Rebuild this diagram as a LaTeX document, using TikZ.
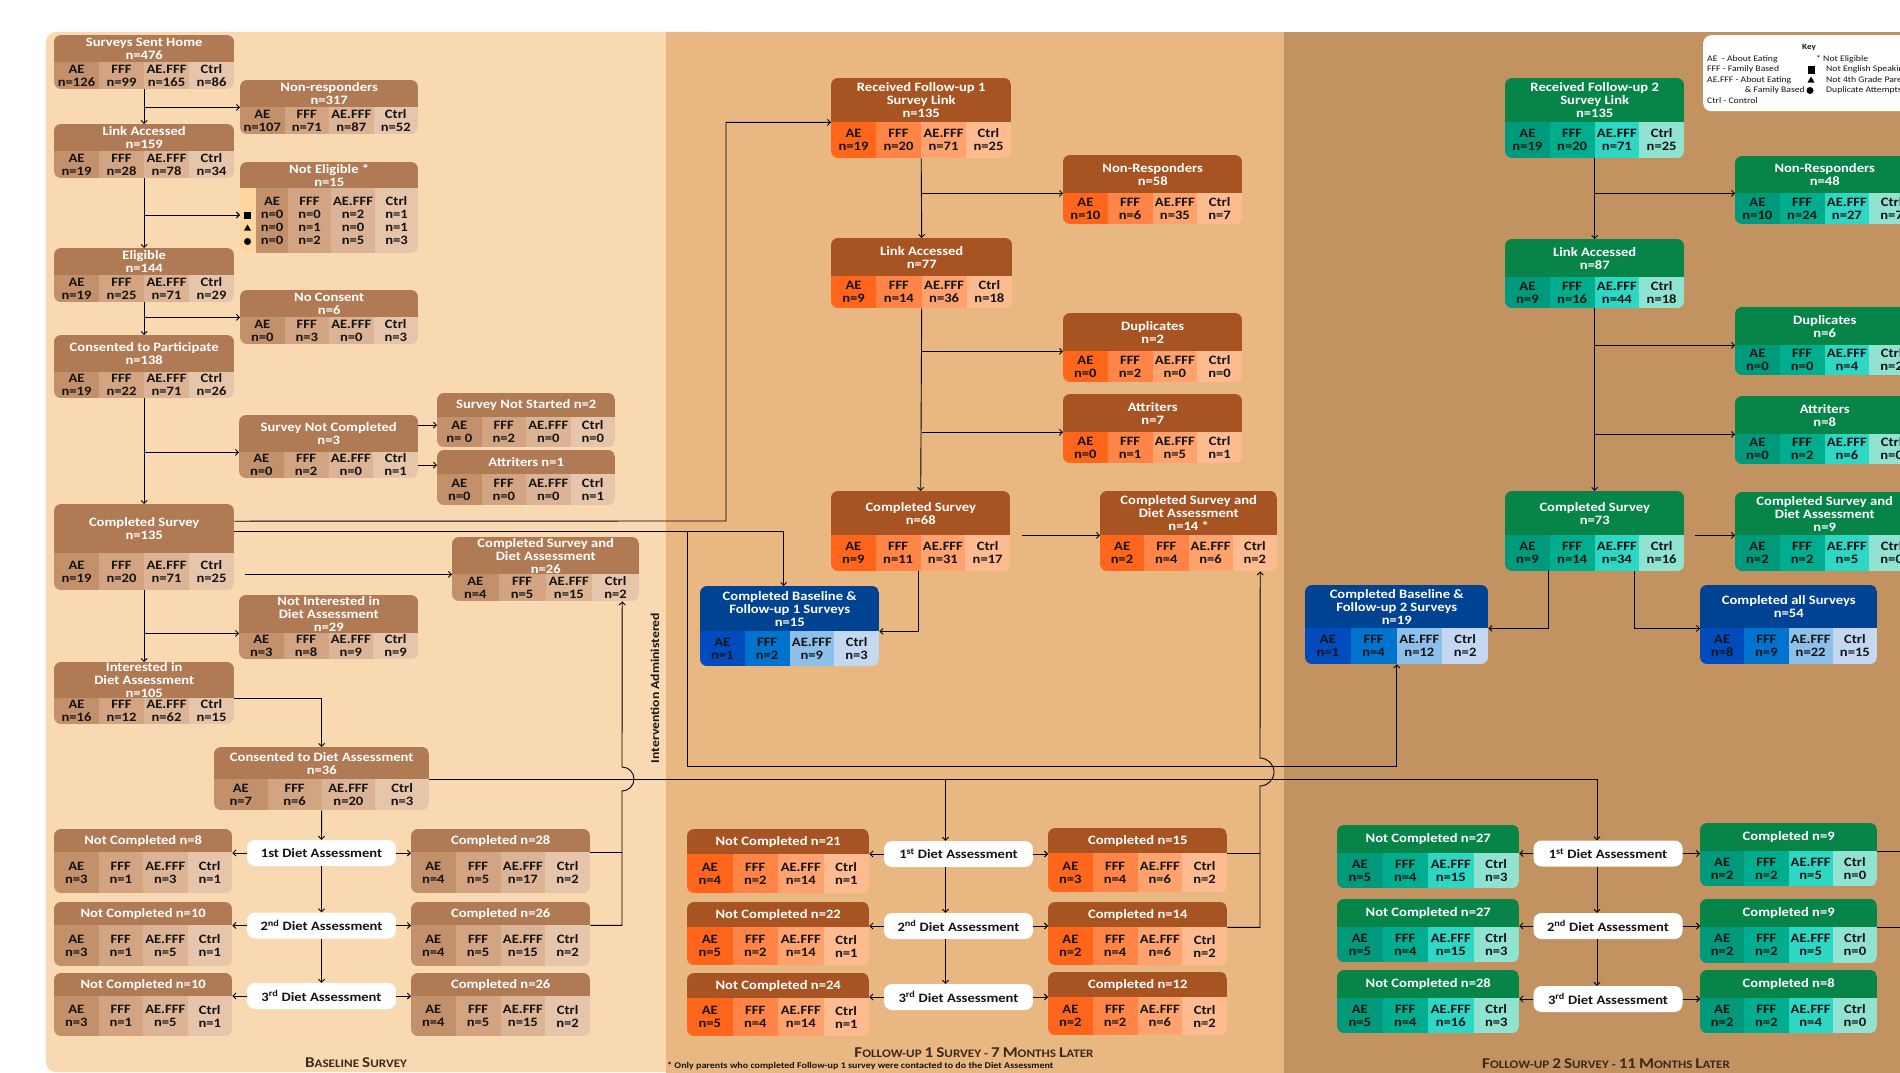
\documentclass[tikz,border=0pt]{standalone}
\usepackage{fontspec}
\setmainfont{Carlito}[FakeStretch=1.14]
\usetikzlibrary{arrows.meta,positioning,calc,shapes.geometric}

% panel colours
\definecolor{bgBase}{HTML}{F9D9B1}
\definecolor{bgFuA}{HTML}{E9B781}
\definecolor{bgFuB}{HTML}{C29360}
% baseline boxes
\definecolor{bsH}{HTML}{B07A55}
\definecolor{bs1}{HTML}{C3906C}
\definecolor{bs2}{HTML}{D2A482}
\definecolor{bs3}{HTML}{DCB495}
\definecolor{bs4}{HTML}{E6C5AB}
% follow-up 1 boxes
\definecolor{faH}{HTML}{A85322}
\definecolor{fa1}{HTML}{FF661C}
\definecolor{fa2}{HTML}{FF8445}
\definecolor{fa3}{HTML}{FFA26E}
\definecolor{fa4}{HTML}{FFBB90}
% follow-up 2 boxes
\definecolor{fbH}{HTML}{078548}
\definecolor{fb1}{HTML}{00997C}
\definecolor{fb2}{HTML}{00AD8E}
\definecolor{fb3}{HTML}{2DD7C3}
\definecolor{fb4}{HTML}{8FE3D0}
% completed-both boxes
\definecolor{blH}{HTML}{004392}
\definecolor{bl1}{HTML}{004CBE}
\definecolor{bl2}{HTML}{0073CF}
\definecolor{bl3}{HTML}{8CC0EA}
\definecolor{bl4}{HTML}{C4D9F1}
\definecolor{symcol}{HTML}{FFD79E}
\definecolor{inkDark}{HTML}{141414}
\definecolor{titleInk}{HTML}{3B2A1A}

\newcommand{\boxfont}{\fontsize{12.8}{13}\selectfont\bfseries}
\newcommand{\scbig}[1]{{\fontsize{15}{16}\selectfont #1}}

% box with coloured header: name, palette, x, y, width, height, header height, title
\newcommand{\databox}[8]{%
  \def\dbName{#1}\def\dbPal{#2}\def\dbX{#3}\def\dbY{#4}%
  \def\dbW{#5}\def\dbH{#6}\def\dbHH{#7}%
  \begin{scope}
    \clip[rounded corners=7pt] (#3,#4) rectangle ++(#5,#6);
    \fill[#2H] (#3,#4) rectangle ++(#5,#7);
  \end{scope}
  \node[boxframe, minimum width=#5pt, minimum height=#6pt] (#1) at (#3,#4) {};
  \node[boxhead, minimum width=#5pt, minimum height=#7pt] (#1-h) at (#3,#4) {#8};
}
% the four group cells of the last box
\newcommand{\cells}[4]{%
  \begin{scope}
    \clip[rounded corners=7pt] (\dbX,\dbY) rectangle ++(\dbW,\dbH);
    \foreach \i in {1,...,4}
      \fill[\dbPal\i] ({\dbX+(\i-1)*\dbW/4},{\dbY+\dbHH}) rectangle ({\dbX+\i*\dbW/4},{\dbY+\dbH});
  \end{scope}
  \foreach \lab/\val [count=\i] in {AE/#1,FFF/#2,AE.FFF/#3,Ctrl/#4}
    \node[celltext] (\dbName-c\i) at ({\dbX+(\i-0.5)*\dbW/4},{\dbY+(\dbHH+\dbH)/2}) {\lab\\\val};
}

\tikzset{
  boxframe/.style={inner sep=0pt, anchor=north west},
  boxhead/.style={inner sep=0pt, anchor=north west, text=white, font=\boxfont, align=center},
  celltext/.style={inner sep=0pt, text=inkDark, font=\boxfont, align=center},
  dietbox/.style={fill=white, rounded corners=8pt, inner sep=0pt, minimum width=149pt,
    minimum height=26pt, font=\boxfont, text=inkDark},
  flow/.style={line width=0.9pt, -{Straight Barb[length=3pt,width=6pt]}},
  link/.style={line width=0.9pt},
  keytext/.style={inner sep=0pt, font=\fontsize{8.5}{10}\selectfont, text=inkDark},
  paneltitle/.style={inner sep=0pt, font=\fontsize{11.5}{13}\selectfont\bfseries, text=titleInk},
}

\begin{document}
\begin{tikzpicture}[x=1pt,y=-1pt]
\useasboundingbox (0,0) rectangle (1900,1073);
\fill[white] (0,0) rectangle (1900,1073);
\fill[bgBase, rounded corners=10pt] (46,32) rectangle (720,1072);
\fill[bgFuA] (666,32) rectangle (1284,1073);
\fill[bgFuB] (1284,32) rectangle (1900,1073);

% ---------------- baseline survey
\databox{sent}{bs}{54}{35}{180}{54}{27}{Surveys Sent Home\\n=476}
\cells{n=126}{n=99}{n=165}{n=86}
\databox{nonresp}{bs}{240}{80}{178}{54}{27}{Non-responders\\n=317}
\cells{n=107}{n=71}{n=87}{n=52}
\databox{linkacc}{bs}{54}{124}{180}{54}{27}{Link Accessed\\n=159}
\cells{n=19}{n=28}{n=78}{n=34}
\databox{notelig}{bs}{240}{162}{178}{91}{26}{Not Eligible *\\n=15}
\begin{scope}
  \clip[rounded corners=7pt] (240,162) rectangle ++(178,91);
  \fill[symcol] (240,188) rectangle (255.5,253);
  \fill[bs1] (255.5,188) rectangle (288,253);
  \fill[bs2] (288,188) rectangle (331,253);
  \fill[bs3] (331,188) rectangle (375,253);
  \fill[bs4] (375,188) rectangle (418,253);
\end{scope}
\foreach \cx/\lab/\ra/\rb/\rc [count=\i] in
  {272/AE/n=0/n=0/n=0, 309.5/FFF/n=0/n=1/n=2, 353/AE.FFF/n=2/n=0/n=5, 396.5/Ctrl/n=1/n=1/n=3}
  \node[celltext] (notelig-c\i) at (\cx,221) {\lab\\\ra\\\rb\\\rc};
\node[fill=black, inner sep=0pt, minimum size=7pt] (notelig-sq) at (247.5,215) {};
\node[fill=black, regular polygon, regular polygon sides=3, inner sep=0pt, minimum size=8pt]
  (notelig-tri) at (247.5,228.5) {};
\node[fill=black, circle, inner sep=0pt, minimum size=7pt] (notelig-dot) at (247.5,241.5) {};
\databox{elig}{bs}{54}{248}{180}{54}{27}{Eligible\\n=144}
\cells{n=19}{n=25}{n=71}{n=29}
\databox{nocons}{bs}{240}{290}{178}{54}{27}{No Consent\\n=6}
\cells{n=0}{n=3}{n=0}{n=3}
\databox{consent}{bs}{54}{335}{180}{63}{37}{Consented to Participate\\n=138}
\cells{n=19}{n=22}{n=71}{n=26}
\databox{notcompl}{bs}{239}{415}{179}{63}{37}{Survey Not Completed\\n=3}
\cells{n=0}{n=2}{n=0}{n=1}
\databox{notstart}{bs}{437}{393}{178}{54}{24}{Survey Not Started n=2}
\cells{n= 0}{n=2}{n=0}{n=0}
\databox{attrone}{bs}{437}{450}{178}{55}{24}{Attriters n=1}
\cells{n=0}{n=0}{n=0}{n=1}
\databox{complsurv}{bs}{54}{504}{180}{86}{49}{Completed Survey\\n=135}
\cells{n=19}{n=20}{n=71}{n=25}
\databox{csdiet}{bs}{452}{537}{187}{64}{37}{Completed Survey and\\Diet Assessment\\n=26}
\cells{n=4}{n=5}{n=15}{n=2}
\databox{notint}{bs}{239}{595}{179}{64}{38}{Not Interested in\\Diet Assessment\\n=29}
\cells{n=3}{n=8}{n=9}{n=9}
\databox{interest}{bs}{54}{662}{180}{62}{36}{Interested in\\Diet Assessment\\n=105}
\cells{n=16}{n=12}{n=62}{n=15}
\databox{condiet}{bs}{214}{747}{215}{63}{32}{Consented to Diet Assessment\\n=36}
\cells{n=7}{n=6}{n=20}{n=3}
\databox{bnc1}{bs}{54}{829}{178}{64}{23}{Not Completed n=8}
\cells{n=3}{n=1}{n=3}{n=1}
\databox{bco1}{bs}{411}{829}{179}{64}{23}{Completed n=28}
\cells{n=4}{n=5}{n=17}{n=2}
\databox{bnc2}{bs}{54}{902}{178}{64}{23}{Not Completed n=10}
\cells{n=3}{n=1}{n=5}{n=1}
\databox{bco2}{bs}{411}{902}{179}{64}{23}{Completed n=26}
\cells{n=4}{n=5}{n=15}{n=2}
\databox{bnc3}{bs}{54}{973}{178}{63}{23}{Not Completed n=10}
\cells{n=3}{n=1}{n=5}{n=1}
\databox{bco3}{bs}{411}{973}{179}{63}{23}{Completed n=26}
\cells{n=4}{n=5}{n=15}{n=2}
\node[dietbox] (bda1) at (321.5,853) {1st Diet Assessment};
\node[dietbox] (bda2) at (321.5,925.5) {2\textsuperscript{nd} Diet Assessment};
\node[dietbox] (bda3) at (321.5,996) {3\textsuperscript{rd} Diet Assessment};

% ---------------- follow-up 1
\databox{fuArecv}{fa}{831}{78}{180}{80}{44}{Received Follow-up 1\\Survey Link\\n=135}
\cells{n=19}{n=20}{n=71}{n=25}
\databox{fuAnonresp}{fa}{1063}{155}{179}{69}{38}{Non-Responders\\n=58}
\cells{n=10}{n=6}{n=35}{n=7}
\databox{fuAlink}{fa}{831}{238}{181}{70}{38}{Link Accessed\\n=77}
\cells{n=9}{n=14}{n=36}{n=18}
\databox{fuAdup}{fa}{1063}{313}{179}{69}{38}{Duplicates\\n=2}
\cells{n=0}{n=2}{n=0}{n=0}
\databox{fuAattr}{fa}{1063}{394}{179}{69}{38}{Attriters\\n=7}
\cells{n=0}{n=1}{n=5}{n=1}
\databox{fuAcompl}{fa}{831}{491}{179}{80}{44}{Completed Survey\\n=68}
\cells{n=9}{n=11}{n=31}{n=17}
\databox{fuAcsdiet}{fa}{1100}{491}{177}{80}{44}{Completed Survey and\\Diet Assessment\\n=14 *}
\cells{n=2}{n=4}{n=6}{n=2}
\databox{fuAboth}{bl}{700}{586}{179}{80}{45}{Completed Baseline \&\\Follow-up 1 Surveys\\n=15}
\cells{n=1}{n=2}{n=9}{n=3}
\databox{fuAnc1}{fa}{687}{829}{182}{64}{25}{Not Completed n=21}
\cells{n=4}{n=2}{n=14}{n=1}
\databox{fuAco1}{fa}{1048}{828}{179}{64}{25}{Completed n=15}
\cells{n=3}{n=4}{n=6}{n=2}
\databox{fuAnc2}{fa}{687}{902}{182}{63}{25}{Not Completed n=22}
\cells{n=5}{n=2}{n=14}{n=1}
\databox{fuAco2}{fa}{1048}{902}{179}{63}{25}{Completed n=14}
\cells{n=2}{n=4}{n=6}{n=2}
\databox{fuAnc3}{fa}{687}{973}{182}{63}{25}{Not Completed n=24}
\cells{n=5}{n=4}{n=14}{n=1}
\databox{fuAco3}{fa}{1048}{972}{179}{63}{25}{Completed n=12}
\cells{n=2}{n=2}{n=6}{n=2}
\node[dietbox] (fuAda1) at (958.5,854) {1\textsuperscript{st} Diet Assessment};
\node[dietbox] (fuAda2) at (958.5,926) {2\textsuperscript{nd} Diet Assessment};
\node[dietbox] (fuAda3) at (958.5,997) {3\textsuperscript{rd} Diet Assessment};

% ---------------- follow-up 2
\databox{fuBrecv}{fb}{1505}{78}{179}{80}{44}{Received Follow-up 2\\Survey Link\\n=135}
\cells{n=19}{n=20}{n=71}{n=25}
\databox{fuBnonresp}{fb}{1735}{156}{179}{68}{37}{Non-Responders\\n=48}
\cells{n=10}{n=24}{n=27}{n=7}
\databox{fuBlink}{fb}{1505}{239}{179}{69}{38}{Link Accessed\\n=87}
\cells{n=9}{n=16}{n=44}{n=18}
\databox{fuBdup}{fb}{1735}{307}{179}{68}{38}{Duplicates\\n=6}
\cells{n=0}{n=0}{n=4}{n=2}
\databox{fuBattr}{fb}{1735}{396}{179}{68}{38}{Attriters\\n=8}
\cells{n=0}{n=2}{n=6}{n=0}
\databox{fuBcompl}{fb}{1505}{491}{179}{80}{44}{Completed Survey\\n=73}
\cells{n=9}{n=14}{n=34}{n=16}
\databox{fuBcsdiet}{fb}{1735}{492}{179}{79}{43}{Completed Survey and\\Diet Assessment\\n=9}
\cells{n=2}{n=2}{n=5}{n=0}
\databox{fuBboth}{bl}{1305}{585}{183}{79}{43}{Completed Baseline \&\\Follow-up 2 Surveys\\n=19}
\cells{n=1}{n=4}{n=12}{n=2}
\databox{fuBall}{bl}{1700}{585}{177}{79}{43}{Completed all Surveys\\n=54}
\cells{n=8}{n=9}{n=22}{n=15}
\databox{fuBnc1}{fb}{1337}{825}{182}{63}{28}{Not Completed n=27}
\cells{n=5}{n=4}{n=15}{n=3}
\databox{fuBco1}{fb}{1700}{823}{177}{63}{28}{Completed n=9}
\cells{n=2}{n=2}{n=5}{n=0}
\databox{fuBnc2}{fb}{1337}{899}{182}{63}{28}{Not Completed n=27}
\cells{n=5}{n=4}{n=15}{n=3}
\databox{fuBco2}{fb}{1700}{899}{177}{64}{28}{Completed n=9}
\cells{n=2}{n=2}{n=5}{n=0}
\databox{fuBnc3}{fb}{1337}{970}{182}{63}{28}{Not Completed n=28}
\cells{n=5}{n=4}{n=16}{n=3}
\databox{fuBco3}{fb}{1700}{970}{177}{63}{28}{Completed n=8}
\cells{n=2}{n=2}{n=4}{n=0}
\node[dietbox] (fuBda1) at (1608,853.5) {1\textsuperscript{st} Diet Assessment};
\node[dietbox] (fuBda2) at (1608,926) {2\textsuperscript{nd} Diet Assessment};
\node[dietbox] (fuBda3) at (1608,999) {3\textsuperscript{rd} Diet Assessment};

% ---------------- key
\node[fill=white, rounded corners=8pt, inner sep=0pt, minimum width=230pt, minimum height=76pt,
  anchor=north west] (keybox) at (1703,35) {};
\node[keytext, font=\fontsize{8}{9}\selectfont\bfseries] (keyhead) at (1809,48) {Key};
\node[keytext, anchor=west] (keyAE) at (1707,59) {AE\ \ - About Eating};
\node[keytext, anchor=west] (keyFFF) at (1707,69.5) {FFF - Family Based};
\node[keytext, anchor=west] (keyBoth) at (1707,80) {AE.FFF - About Eating};
\node[keytext, anchor=east] (keyBothB) at (1805,90.5) {\& Family Based};
\node[keytext, anchor=west] (keyCtrl) at (1707,101) {Ctrl - Control};
\node[keytext, anchor=west] (keyStar) at (1816,59) {* Not Eligible};
\node[fill=black, inner sep=0pt, minimum size=7pt] (keySq) at (1811,70) {};
\node[keytext, anchor=west] (keySqT) at (1826,69.5) {Not English Speaking};
\node[fill=black, regular polygon, regular polygon sides=3, inner sep=0pt, minimum size=8pt]
  (keyTri) at (1811,80.5) {};
\node[keytext, anchor=west] (keyTriT) at (1826,80) {Not 4th Grade Parents};
\node[fill=black, circle, inner sep=0pt, minimum size=7pt] (keyDot) at (1810,90.5) {};
\node[keytext, anchor=west] (keyDotT) at (1826,90.5) {Duplicate Attempts};

% ---------------- panel titles
\node[paneltitle] (baseTitle) at (356,1063) {\scbig{B}ASELINE \scbig{S}URVEY};
\node[paneltitle] (fuATitle) at (974,1053)
  {\scbig{F}OLLOW-UP \scbig{1} \scbig{S}URVEY - \scbig{7} \scbig{M}ONTHS \scbig{L}ATER};
\node[paneltitle] (fuBTitle) at (1606,1064)
  {\scbig{F}OLLOW-UP \scbig{2} \scbig{S}URVEY - \scbig{11} \scbig{M}ONTHS \scbig{L}ATER};
\node[inner sep=0pt, anchor=west, font=\fontsize{8.8}{10}\selectfont\bfseries, text=inkDark] (footnote)
  at (667,1066) {* Only parents who completed Follow-up 1 survey were contacted to do the Diet Assessment};
\node[rotate=90, inner sep=0pt, font=\fontsize{12}{13}\selectfont\bfseries, text=inkDark] (interv)
  at (655,688) {Intervention Administered};

% bend points
\coordinate (bendRecv) at (726,521);
\coordinate (jBoth) at (687,531);
\coordinate (bendBoth) at (687,766);
\coordinate (hopBase) at (622,791);
\coordinate (hopFuA) at (1260,786);

% ---------------- baseline connectors
\draw[flow] (sent.south) -- (linkacc.north);
\draw[flow] (sent.south |- nonresp-h.south west) -- (nonresp-h.south west);
\draw[flow] (linkacc.south) -- (elig.north);
\draw[flow] (linkacc.south |- notelig-sq) -- (notelig.west |- notelig-sq);
\draw[flow] (elig.south) -- (consent.north);
\draw[flow] (elig.south |- nocons-h.south west) -- (nocons-h.south west);
\draw[flow] (consent.south) -- (complsurv.north);
\draw[flow] (consent.south |- notcompl-h.south west) -- (notcompl-h.south west);
\draw[flow] ($(notcompl.east |- notstart.west)+(0,5)$) -- ($(notstart.west)+(0,5)$);
\draw[flow] ($(notcompl.east |- attrone.west)+(0,-12.5)$) -- ($(attrone.west)+(0,-12.5)$);
\draw[flow] (complsurv.south) -- (interest.north);
\draw[flow] (complsurv.south |- notint-h.south west) -- (notint-h.south west);
\draw[flow] ($(complsurv.east |- csdiet-h.south west)+(11,0)$) -- (csdiet-h.south west);
\draw[flow] (interest-h.south east) -| (condiet.north);
\draw[flow] (condiet.south) -- (bda1.north);
\draw[flow] (bda1.south) -- (bda2.north);
\draw[flow] (bda2.south) -- (bda3.north);
\foreach \r in {1,2,3} {
  \draw[flow] (bda\r.west) -- (bnc\r.east |- bda\r.west);
  \draw[flow] (bda\r.east) -- (bco\r.west |- bda\r.west);
}
\draw[link] (bco1-h.south east) -- (bco1-h.south east -| hopBase);
\draw[flow] (bco2-h.south east) -| (hopBase) arc[start angle=-90, end angle=90, radius=12pt]
  -- ($(csdiet.south)+(76.5,0)$);

% ---------------- baseline to follow-ups
\draw[flow] ($(complsurv.east)+(0,-26)$) -- (bendRecv) |- (fuArecv-h.south west);
\draw[flow] ($(complsurv.east)+(0,-16)$) -| ($(fuAboth.north)+(-6,0)$);
\draw[flow] (jBoth) -- (bendBoth) -| (fuBboth.south);
\draw[flow] (condiet-h.south east) -| ($(fuAda1.north)+(-13,0)$);
\draw[flow] (condiet-h.south east) -| ($(fuBda1.north)+(-11,0)$);

% ---------------- follow-up 1 connectors
\draw[flow] (fuArecv.south) -- (fuAlink.north);
\draw[flow] (fuArecv.south |- fuAnonresp-h.south west) -- (fuAnonresp-h.south west);
\draw[flow] (fuAlink.south) -- (fuAcompl.north);
\draw[flow] (fuAlink.south |- fuAdup-h.south west) -- (fuAdup-h.south west);
\draw[flow] (fuAlink.south |- fuAattr-h.south west) -- (fuAattr-h.south west);
\draw[flow] ($(fuAcompl.east |- fuAcsdiet-h.south west)+(12,0)$) -- (fuAcsdiet-h.south west);
\draw[flow] ($(fuAcompl.south)+(-2,0)$) |- (fuAboth-h.south east);
\draw[flow] ($(fuAda1.south)+(-13,0)$) -- ($(fuAda2.north)+(-13,0)$);
\draw[flow] ($(fuAda2.south)+(-13,0)$) -- ($(fuAda3.north)+(-13,0)$);
\foreach \r in {1,2,3} {
  \draw[flow] (fuAda\r.west) -- (fuAnc\r.east |- fuAda\r.west);
  \draw[flow] (fuAda\r.east) -- (fuAco\r.west |- fuAda\r.west);
}
\draw[link] (fuAco1-h.south east) -- (fuAco1-h.south east -| hopFuA);
\draw[flow] (fuAco2-h.south east) -| (hopFuA) arc[start angle=-90, end angle=90, radius=14pt]
  -- ($(fuAcsdiet.south)+(71.5,0)$);

% ---------------- follow-up 2 connectors
\draw[flow] (fuBrecv.south) -- (fuBlink.north);
\draw[flow] (fuBrecv.south |- fuBnonresp-h.south west) -- (fuBnonresp-h.south west);
\draw[flow] (fuBlink.south) -- (fuBcompl.north);
\draw[flow] (fuBlink.south |- fuBdup-h.south west) -- (fuBdup-h.south west);
\draw[flow] (fuBlink.south |- fuBattr-h.south west) -- (fuBattr-h.south west);
\draw[flow] ($(fuBcompl.east |- fuBcsdiet-h.south west)+(11,0)$) -- (fuBcsdiet-h.south west);
\draw[flow] ($(fuBcompl.south)+(-46,0)$) |- (fuBboth-h.south east);
\draw[flow] ($(fuBcompl.south)+(40,0)$) |- (fuBall-h.south west);
\draw[flow] ($(fuBda1.south)+(-11,0)$) -- ($(fuBda2.north)+(-11,0)$);
\draw[flow] ($(fuBda2.south)+(-11,0)$) -- ($(fuBda3.north)+(-11,0)$);
\foreach \r in {1,2,3} {
  \draw[flow] (fuBda\r.west) -- (fuBnc\r.east |- fuBda\r.west);
  \draw[flow] (fuBda\r.east) -- (fuBco\r.west |- fuBda\r.west);
}
\draw[link] (fuBco1-h.south east) -- ++(40,0);
\draw[link] (fuBco2-h.south east) -- ++(40,0);
\end{tikzpicture}
\end{document}
